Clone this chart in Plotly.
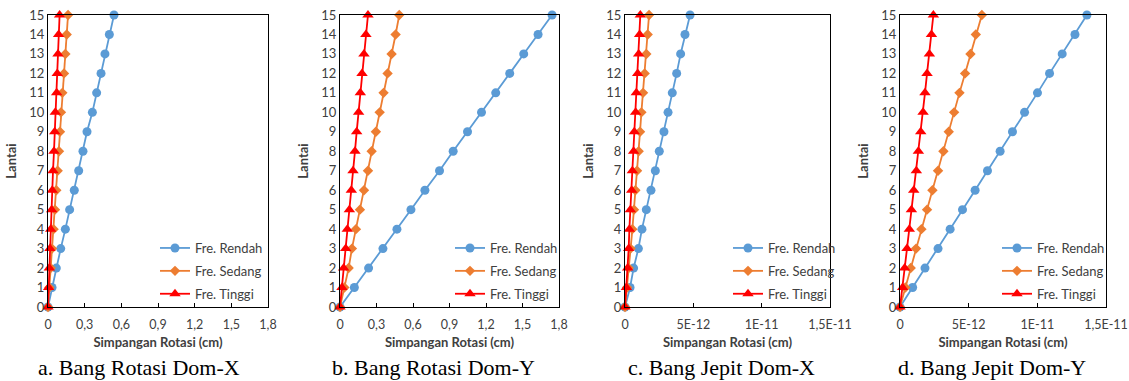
import plotly.graph_objects as go

W, H = 1129, 381

lantai = list(range(16))

# Panel a: Bang Rotasi Dom-X
a_rendah = [0, 0.033, 0.068, 0.104, 0.142, 0.177, 0.215, 0.251, 0.286, 0.319, 0.363, 0.398, 0.434, 0.466, 0.502, 0.540]
a_sedang = [0, 0.011, 0.022, 0.033, 0.046, 0.057, 0.068, 0.079, 0.090, 0.098, 0.106, 0.117, 0.131, 0.142, 0.153, 0.164]
a_tinggi = [0, 0.005, 0.011, 0.016, 0.022, 0.030, 0.035, 0.041, 0.049, 0.055, 0.060, 0.071, 0.076, 0.082, 0.087, 0.095]

# Panel b: Bang Rotasi Dom-Y
b_rendah = [0, 0.118, 0.235, 0.353, 0.468, 0.583, 0.698, 0.818, 0.930, 1.048, 1.163, 1.280, 1.395, 1.510, 1.628, 1.743]
b_sedang = [0, 0.036, 0.071, 0.098, 0.131, 0.164, 0.197, 0.230, 0.260, 0.295, 0.326, 0.358, 0.391, 0.424, 0.457, 0.487]
b_tinggi = [0, 0.016, 0.030, 0.047, 0.060, 0.077, 0.093, 0.107, 0.123, 0.137, 0.153, 0.167, 0.181, 0.197, 0.213, 0.230]

# Panel c: Bang Jepit Dom-X
c_rendah = [0, 0.37e-12, 0.63e-12, 0.98e-12, 1.24e-12, 1.56e-12, 1.90e-12, 2.22e-12, 2.51e-12, 2.85e-12, 3.15e-12, 3.46e-12, 3.78e-12, 4.07e-12, 4.39e-12, 4.76e-12]
c_sedang = [0, 0.15e-12, 0.27e-12, 0.41e-12, 0.54e-12, 0.66e-12, 0.76e-12, 0.88e-12, 1.00e-12, 1.10e-12, 1.20e-12, 1.32e-12, 1.44e-12, 1.56e-12, 1.66e-12, 1.76e-12]
c_tinggi = [0, 0.10e-12, 0.20e-12, 0.27e-12, 0.32e-12, 0.39e-12, 0.49e-12, 0.54e-12, 0.63e-12, 0.68e-12, 0.78e-12, 0.83e-12, 0.93e-12, 1.00e-12, 1.07e-12, 1.12e-12]

# Panel d: Bang Jepit Dom-Y
d_rendah = [0, 0.92e-12, 1.82e-12, 2.77e-12, 3.65e-12, 4.55e-12, 5.47e-12, 6.37e-12, 7.29e-12, 8.19e-12, 9.07e-12, 10.01e-12, 10.89e-12, 11.81e-12, 12.74e-12, 13.61e-12]
d_sedang = [0, 0.39e-12, 0.78e-12, 1.17e-12, 1.56e-12, 1.97e-12, 2.36e-12, 2.77e-12, 3.16e-12, 3.55e-12, 3.94e-12, 4.33e-12, 4.74e-12, 5.13e-12, 5.52e-12, 5.96e-12]
d_tinggi = [0, 0.19e-12, 0.34e-12, 0.51e-12, 0.68e-12, 0.83e-12, 1.00e-12, 1.19e-12, 1.34e-12, 1.51e-12, 1.68e-12, 1.82e-12, 1.97e-12, 2.14e-12, 2.29e-12, 2.43e-12]

series_names = ["Fre. Rendah", "Fre. Sedang", "Fre. Tinggi"]
captions = ["a. Bang Rotasi Dom-X", "b. Bang Rotasi Dom-Y", "c. Bang Jepit Dom-X", "d. Bang Jepit Dom-Y"]

rot_tickvals = [0, 0.3, 0.6, 0.9, 1.2, 1.5, 1.8]
rot_ticktext = ["0", "0,3", "0,6", "0,9", "1,2", "1,5", "1,8"]
jep_tickvals = [0, 5e-12, 1e-11, 1.5e-11]
jep_ticktext = ["0", "5E-12", "1E-11", "1,5E-11"]

colors = ["#5B9BD5", "#ED7D31", "#FF0000"]
symbols = ["circle", "diamond", "triangle-up"]
msizes = [9, 8, 10]

# window-pixel layout of each panel: plot left, plot right, legend left, caption centre
panels = [
    (a_rendah, a_sedang, a_tinggi, rot_tickvals, rot_ticktext, [0, 1.8], (48, 268, 155, 139)),
    (b_rendah, b_sedang, b_tinggi, rot_tickvals, rot_ticktext, [0, 1.8], (340, 559, 450, 433)),
    (c_rendah, c_sedang, c_tinggi, jep_tickvals, jep_ticktext, [0, 1.5e-11], (625, 830, 728, 721)),
    (d_rendah, d_sedang, d_tinggi, jep_tickvals, jep_ticktext, [0, 1.5e-11], (900, 1106, 997, 992)),
]


def px(x):
    return x / W


def py(y):
    return 1 - y / H


top_px, bot_px = 15, 307

FAM = "Lato, 'Open Sans', sans-serif"
YTICKFONT = dict(family=FAM, size=13, color="#404040")
XTICKFONT = dict(family=FAM, size=12.5, color="#404040")
fig = go.Figure()
layout = dict(
    width=W, height=H, margin=dict(l=0, r=0, t=0, b=0, autoexpand=False),
    paper_bgcolor="white", plot_bgcolor="white", showlegend=True,
)
annotations = []

for i, (r, s, t, tv, tt, xr, (xl, xrp, lgx, capx)) in enumerate(panels):
    k = "" if i == 0 else str(i + 1)
    lg = "legend" if i == 0 else f"legend{i + 1}"
    for j, vals in enumerate([r, s, t]):
        fig.add_trace(go.Scatter(
            x=vals, y=lantai, mode="lines+markers", name=series_names[j],
            xaxis="x" + k, yaxis="y" + k, legend=lg, legendgroup=f"{i}_{j}",
            line=dict(color=colors[j], width=1.8),
            marker=dict(symbol=symbols[j], size=msizes[j], color=colors[j]),
            cliponaxis=False,
        ))
    d0, d1 = px(xl), px(xrp)
    layout["xaxis" + k] = dict(
        domain=[d0, d1], range=xr, tickvals=tv, ticktext=tt, anchor="y" + k,
        showline=True, linecolor="black", linewidth=1.3, mirror=True,
        ticks="inside", ticklen=4, tickcolor="black", showgrid=False, zeroline=False,
        tickfont=XTICKFONT, automargin=False, ticklabeloverflow="allow", ticklabelstandoff=6,
        title=dict(text="<b>Simpangan Rotasi (cm)</b>", font=dict(family=FAM, size=13, color="#404040"), standoff=6),
    )
    layout["yaxis" + k] = dict(
        domain=[py(bot_px), py(top_px)], range=[0, 15], tickvals=lantai, anchor="x" + k,
        showline=True, linecolor="black", linewidth=1.3, mirror=True,
        ticks="", showgrid=False, zeroline=False, tickfont=YTICKFONT, automargin=False,
        ticklabeloverflow="allow",
        title=dict(text="<b>Lantai</b>", font=dict(family=FAM, size=13, color="#404040"), standoff=9),
    )
    layout[lg] = dict(
        x=px(lgx), y=py(233), xanchor="left", yanchor="top",
        bgcolor="rgba(0,0,0,0)", font=dict(family=FAM, size=13, color="#404040"),
        tracegroupgap=3, itemwidth=30,
    )
    annotations.append(dict(
        text=captions[i], xref="paper", yref="paper", x=px(capx), y=py(367),
        xanchor="center", yanchor="middle", showarrow=False,
        font=dict(family="Liberation Serif, 'Times New Roman', serif", size=22, color="black"),
    ))

layout["annotations"] = annotations
fig.update_layout(**layout)
fig.write_html(
    "out.html",
    config={"displayModeBar": False},
    post_script="document.body.style.margin='0';document.body.style.overflow='hidden';",
)
